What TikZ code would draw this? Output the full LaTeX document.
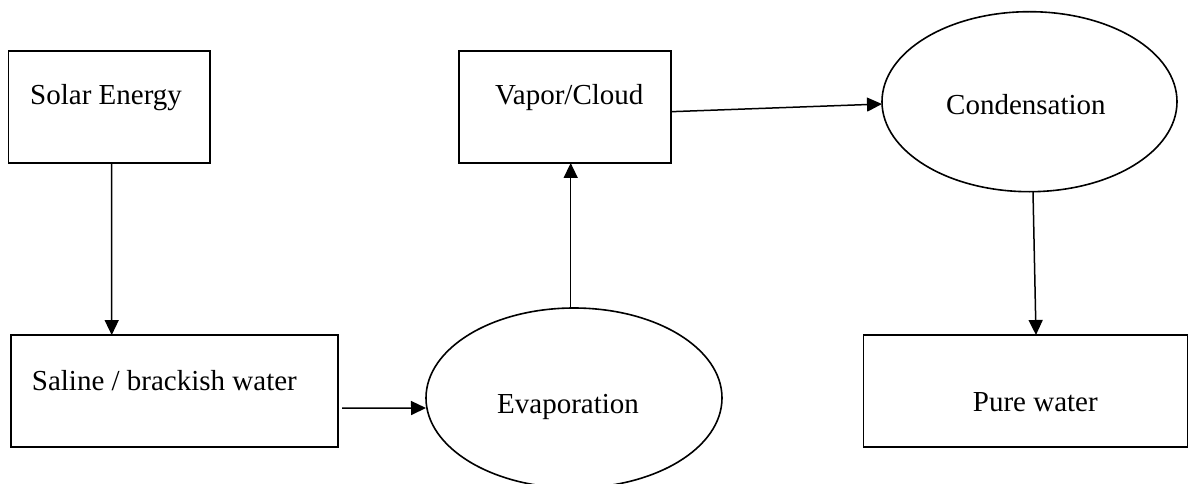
\documentclass[tikz,border=0pt]{standalone}
\usepackage{fontspec}
\setmainfont{Liberation Serif}
\usetikzlibrary{arrows.meta,shapes.geometric}
\begin{document}
\begin{tikzpicture}[x=1pt,y=-1pt,
  boxnode/.style={draw,line width=1.8pt,rectangle,inner sep=0pt,outer sep=0pt},
  ellnode/.style={draw,line width=1.6pt,ellipse,inner sep=0pt,outer sep=0pt},
  lbl/.style={anchor=base west,inner sep=0pt,font=\fontsize{29}{34}\selectfont},
  arr/.style={line width=1.5pt,-{Triangle[length=15pt,width=14pt]}}]
\useasboundingbox (0,0) rectangle (1189,484);
% shapes
\node[boxnode,minimum width=201.5pt,minimum height=112pt] (solar) at (109.25,107) {};
\node[boxnode,minimum width=212pt,minimum height=112pt] (vapor) at (565,107) {};
\node[ellnode,minimum width=295pt,minimum height=180pt] (cond) at (1029.5,101.7) {};
\node[boxnode,minimum width=326.7pt,minimum height=112.3pt] (saline) at (174.35,391.2) {};
\node[ellnode,minimum width=296pt,minimum height=180pt] (evap) at (574,398) {};
\node[boxnode,minimum width=324pt,minimum height=112pt] (pure) at (1025.5,391) {};
% labels
\node[lbl] (tsolar) at (30,105) {Solar Energy};
\node[lbl] (tvapor) at (495,105) {Vapor/Cloud};
\node[lbl] (tcond) at (946,115) {Condensation};
\node[lbl] (tsaline) at (31.7,390) {Saline / brackish water};
\node[lbl] (tevap) at (497,413) {Evaporation};
\node[lbl] (tpure) at (972.7,411.7) {Pure water};
% connectors
\draw[arr] ([xshift=2.45pt]solar.south) -- ([xshift=-62.65pt]saline.north);
\draw[arr] ([shift={(4.5pt,-17pt)}]saline.east) -- ([yshift=-10pt]evap.west);
\draw[arr] ([xshift=-3.3pt]evap.north) -- ([xshift=5.7pt]vapor.south);
\draw[arr] ([yshift=-4.7pt]vapor.east) -- ([yshift=-2.3pt]cond.west);
\draw[arr] ([xshift=3.5pt]cond.south) -- ([xshift=10.5pt]pure.north);
\end{tikzpicture}
\end{document}
